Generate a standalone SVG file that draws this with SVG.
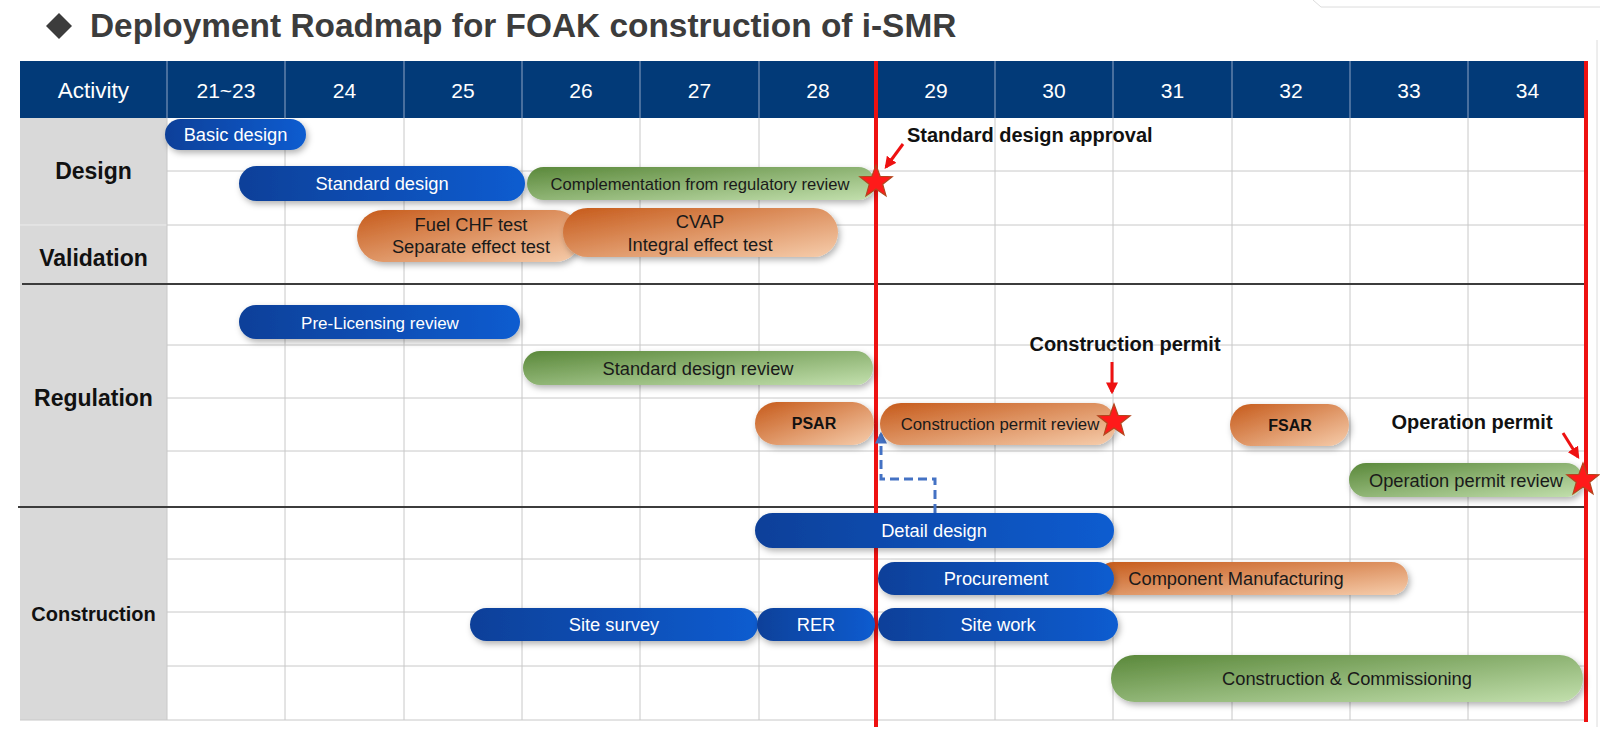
<svg xmlns="http://www.w3.org/2000/svg" width="1600" height="743" viewBox="0 0 1600 743">
<defs>
<linearGradient id="gBlue" x1="0" y1="0" x2="1" y2="0">
<stop offset="0" stop-color="#0a4099"/><stop offset="1" stop-color="#0a5cd0"/>
</linearGradient>
<linearGradient id="gGreen" x1="0" y1="0" x2="1" y2="1">
<stop offset="0" stop-color="#5a883a"/><stop offset="1" stop-color="#c3e0ae"/>
</linearGradient>
<linearGradient id="gOrange" x1="0" y1="0" x2="1" y2="1">
<stop offset="0" stop-color="#c65a1a"/><stop offset="1" stop-color="#f6cdac"/>
</linearGradient>
<filter id="sh" x="-10%" y="-30%" width="120%" height="170%">
<feDropShadow dx="2" dy="3" stdDeviation="3" flood-color="#000" flood-opacity="0.3"/>
</filter>
<path id="star" d="M0,-17 L4.1,-5.7 L16.2,-5.3 L6.7,2.2 L10,13.8 L0,7 L-10,13.8 L-6.7,2.2 L-16.2,-5.3 L-4.1,-5.7 Z"/>
<marker id="redHead" viewBox="0 0 10 10" refX="8" refY="5" markerWidth="4" markerHeight="4" orient="auto">
<path d="M0,0 L10,5 L0,10 Z" fill="#ee1111"/>
</marker>
<marker id="blueHead" viewBox="0 0 10 10" refX="8" refY="5" markerWidth="4" markerHeight="4" orient="auto">
<path d="M0,0 L10,5 L0,10 Z" fill="#4472c4"/>
</marker>
<style>
.hdr{font-family:"Liberation Sans",Arial,sans-serif;font-size:21px;fill:#fff;text-anchor:middle}
.side{font-family:"Liberation Sans",Arial,sans-serif;font-weight:bold;font-size:23px;fill:#111;text-anchor:middle}
.grid{stroke:#c8c8c8;stroke-width:1;fill:none}
.sep{stroke:#3c3c3c;stroke-width:2}
.redline{stroke:#ee1111;stroke-width:4}
.pill{filter:url(#sh)}
.blue{fill:url(#gBlue)}
.green{fill:url(#gGreen)}
.orange{fill:url(#gOrange)}
.tw{font-family:"Liberation Sans",Arial,sans-serif;font-size:18.3px;fill:#fff;text-anchor:middle}
.td{font-family:"Liberation Sans",Arial,sans-serif;font-size:18.3px;fill:#1a1a1a;text-anchor:middle}
.tb{font-family:"Liberation Sans",Arial,sans-serif;font-size:16px;font-weight:bold;fill:#111;text-anchor:middle}
.ms{font-family:"Liberation Sans",Arial,sans-serif;font-size:20px;font-weight:bold;fill:#111}
.star{fill:#ff1a1a;stroke:#b4461e;stroke-width:1.2}
</style>
</defs>

<rect width="1600" height="743" fill="#fff"/>
<path d="M1313,0 L1321,7 L1600,7" fill="none" stroke="#dcdcdc" stroke-width="1"/>
<line x1="1597" y1="40" x2="1597" y2="727" stroke="#dcdcdc" stroke-width="1"/>

<g id="title">
<path d="M59,13 L72,26 L59,39 L46,26 Z" fill="#3c3c3c"/>
<text x="90" y="37" font-family="Liberation Sans,Arial,sans-serif" font-size="33.4" font-weight="bold" fill="#3c3c3c">Deployment Roadmap for FOAK construction of i-SMR</text>
</g>

<g id="table">
<rect x="20" y="61" width="1567" height="57" fill="#023a78"/>
<g stroke="#8ea3c4" stroke-width="1">
<line x1="167" y1="61" x2="167" y2="118"/><line x1="285" y1="61" x2="285" y2="118"/><line x1="404" y1="61" x2="404" y2="118"/>
<line x1="522" y1="61" x2="522" y2="118"/><line x1="640" y1="61" x2="640" y2="118"/><line x1="759" y1="61" x2="759" y2="118"/>
<line x1="995" y1="61" x2="995" y2="118"/><line x1="1113" y1="61" x2="1113" y2="118"/>
<line x1="1232" y1="61" x2="1232" y2="118"/><line x1="1350" y1="61" x2="1350" y2="118"/><line x1="1468" y1="61" x2="1468" y2="118"/>
</g>
<text class="hdr" x="93.5" y="97.5" style="font-size:22.5px">Activity</text>
<text class="hdr" x="226" y="97.5">21~23</text>
<text class="hdr" x="344.5" y="97.5">24</text>
<text class="hdr" x="463" y="97.5">25</text>
<text class="hdr" x="581" y="97.5">26</text>
<text class="hdr" x="699.5" y="97.5">27</text>
<text class="hdr" x="818" y="97.5">28</text>
<text class="hdr" x="936" y="97.5">29</text>
<text class="hdr" x="1054" y="97.5">30</text>
<text class="hdr" x="1172.5" y="97.5">31</text>
<text class="hdr" x="1291" y="97.5">32</text>
<text class="hdr" x="1409" y="97.5">33</text>
<text class="hdr" x="1527.5" y="97.5">34</text>

<rect x="20" y="118" width="147" height="602" fill="#d9d9d9"/>
<g stroke="#ececec" stroke-width="1">
<line x1="20" y1="225" x2="167" y2="225"/>
</g>
<g class="grid">
<line x1="167" y1="171" x2="1587" y2="171"/>
<line x1="167" y1="225" x2="1587" y2="225"/>
<line x1="167" y1="345" x2="1587" y2="345"/>
<line x1="167" y1="398" x2="1587" y2="398"/>
<line x1="167" y1="451" x2="1587" y2="451"/>
<line x1="167" y1="559" x2="1587" y2="559"/>
<line x1="167" y1="612" x2="1587" y2="612"/>
<line x1="167" y1="666" x2="1587" y2="666"/>
<line x1="20" y1="720" x2="1587" y2="720"/>
<line x1="167" y1="118" x2="167" y2="720"/>
<line x1="285" y1="118" x2="285" y2="720"/>
<line x1="404" y1="118" x2="404" y2="720"/>
<line x1="522" y1="118" x2="522" y2="720"/>
<line x1="640" y1="118" x2="640" y2="720"/>
<line x1="759" y1="118" x2="759" y2="720"/>
<line x1="877" y1="118" x2="877" y2="720"/>
<line x1="995" y1="118" x2="995" y2="720"/>
<line x1="1113" y1="118" x2="1113" y2="720"/>
<line x1="1232" y1="118" x2="1232" y2="720"/>
<line x1="1350" y1="118" x2="1350" y2="720"/>
<line x1="1468" y1="118" x2="1468" y2="720"/>
<line x1="1587" y1="118" x2="1587" y2="720"/>
</g>
<line class="sep" x1="22" y1="284" x2="1585" y2="284"/>
<line class="sep" x1="18" y1="507" x2="1585" y2="507"/>

<text class="side" x="93.5" y="179">Design</text>
<text class="side" x="93.5" y="266">Validation</text>
<text class="side" x="93.5" y="406">Regulation</text>
<text class="side" x="93.5" y="621" style="font-size:20px">Construction</text>
</g>

<g id="milestone-lines">
<line class="redline" x1="876" y1="61" x2="876" y2="727"/>
<line class="redline" x1="1586" y1="61" x2="1586" y2="722"/>
</g>

<g id="connectors">
<path d="M935,513 V479 H881 V434" fill="none" stroke="#4472c4" stroke-width="3" stroke-dasharray="9 5" marker-end="url(#blueHead)"/>
<line x1="903" y1="144" x2="886" y2="167" stroke="#ee1111" stroke-width="3" marker-end="url(#redHead)"/>
<line x1="1112" y1="362" x2="1112" y2="392" stroke="#ee1111" stroke-width="3" marker-end="url(#redHead)"/>
<line x1="1563" y1="433" x2="1578" y2="457" stroke="#ee1111" stroke-width="3" marker-end="url(#redHead)"/>
</g>

<g id="basic-design"><rect class="pill blue" x="165" y="119" width="141" height="31" rx="15.5"/><text class="tw" x="235.5" y="141">Basic design</text></g>
<g id="standard-design"><rect class="pill blue" x="239" y="166" width="286" height="35" rx="17.5"/><text class="tw" x="382" y="190">Standard design</text></g>
<g id="complementation"><rect class="pill green" x="527" y="167" width="348" height="33" rx="16.5"/><text class="td" x="700" y="189.5" style="font-size:16.6px">Complementation from regulatory review</text></g>
<g id="fuel-chf"><rect class="pill orange" x="357" y="210" width="224" height="52" rx="26"/><text class="td" x="471" y="231">Fuel CHF test</text><text class="td" x="471" y="253">Separate effect test</text></g>
<g id="cvap"><rect class="pill orange" x="563" y="208" width="275" height="49" rx="24.5"/><text class="td" x="700" y="228">CVAP</text><text class="td" x="700" y="251">Integral effect test</text></g>

<g id="pre-licensing"><rect class="pill blue" x="239" y="305" width="281" height="34" rx="17"/><text class="tw" x="380" y="328.5" style="font-size:17px">Pre-Licensing review</text></g>
<g id="standard-design-review"><rect class="pill green" x="523" y="351" width="350" height="34" rx="17"/><text class="td" x="698" y="374.5">Standard design review</text></g>
<g id="psar"><rect class="pill orange" x="755" y="402" width="119" height="43" rx="21.5"/><text class="tb" x="814" y="429">PSAR</text></g>
<g id="construction-permit-review"><rect class="pill orange" x="880" y="403" width="236" height="42" rx="21"/><text class="td" x="1000" y="430" style="font-size:16.8px">Construction permit review</text></g>
<g id="fsar"><rect class="pill orange" x="1230" y="404" width="119" height="42" rx="21"/><text class="tb" x="1290" y="431">FSAR</text></g>
<g id="operation-permit-review"><rect class="pill green" x="1349" y="463" width="234" height="34" rx="17"/><text class="td" x="1466" y="486.5">Operation permit review</text></g>

<g id="detail-design"><rect class="pill blue" x="755" y="513" width="359" height="35" rx="17.5"/><text class="tw" x="934" y="537">Detail design</text></g>
<g id="component-manufacturing"><rect class="pill orange" x="1097" y="562" width="311" height="33" rx="16.5"/><text class="td" x="1236" y="585">Component Manufacturing</text></g>
<g id="procurement"><rect class="pill blue" x="878" y="562" width="236" height="33" rx="16.5"/><text class="tw" x="996" y="585">Procurement</text></g>
<g id="site-survey"><rect class="pill blue" x="470" y="608" width="288" height="33" rx="16.5"/><text class="tw" x="614" y="631">Site survey</text></g>
<g id="rer"><rect class="pill blue" x="757" y="608" width="118" height="33" rx="16.5"/><text class="tw" x="816" y="631">RER</text></g>
<g id="site-work"><rect class="pill blue" x="878" y="608" width="240" height="33" rx="16.5"/><text class="tw" x="998" y="631">Site work</text></g>
<g id="construction-commissioning"><rect class="pill green" x="1111" y="655" width="472" height="47" rx="23.5"/><text class="td" x="1347" y="685">Construction &amp; Commissioning</text></g>

<g id="milestones">
<use href="#star" class="star" x="876" y="182"/>
<use href="#star" class="star" x="1114" y="421"/>
<use href="#star" class="star" x="1583" y="480"/>
<text class="ms" x="907" y="142">Standard design approval</text>
<text class="ms" x="1125" y="351" text-anchor="middle">Construction permit</text>
<text class="ms" x="1472" y="429" text-anchor="middle">Operation permit</text>
</g>
</svg>
